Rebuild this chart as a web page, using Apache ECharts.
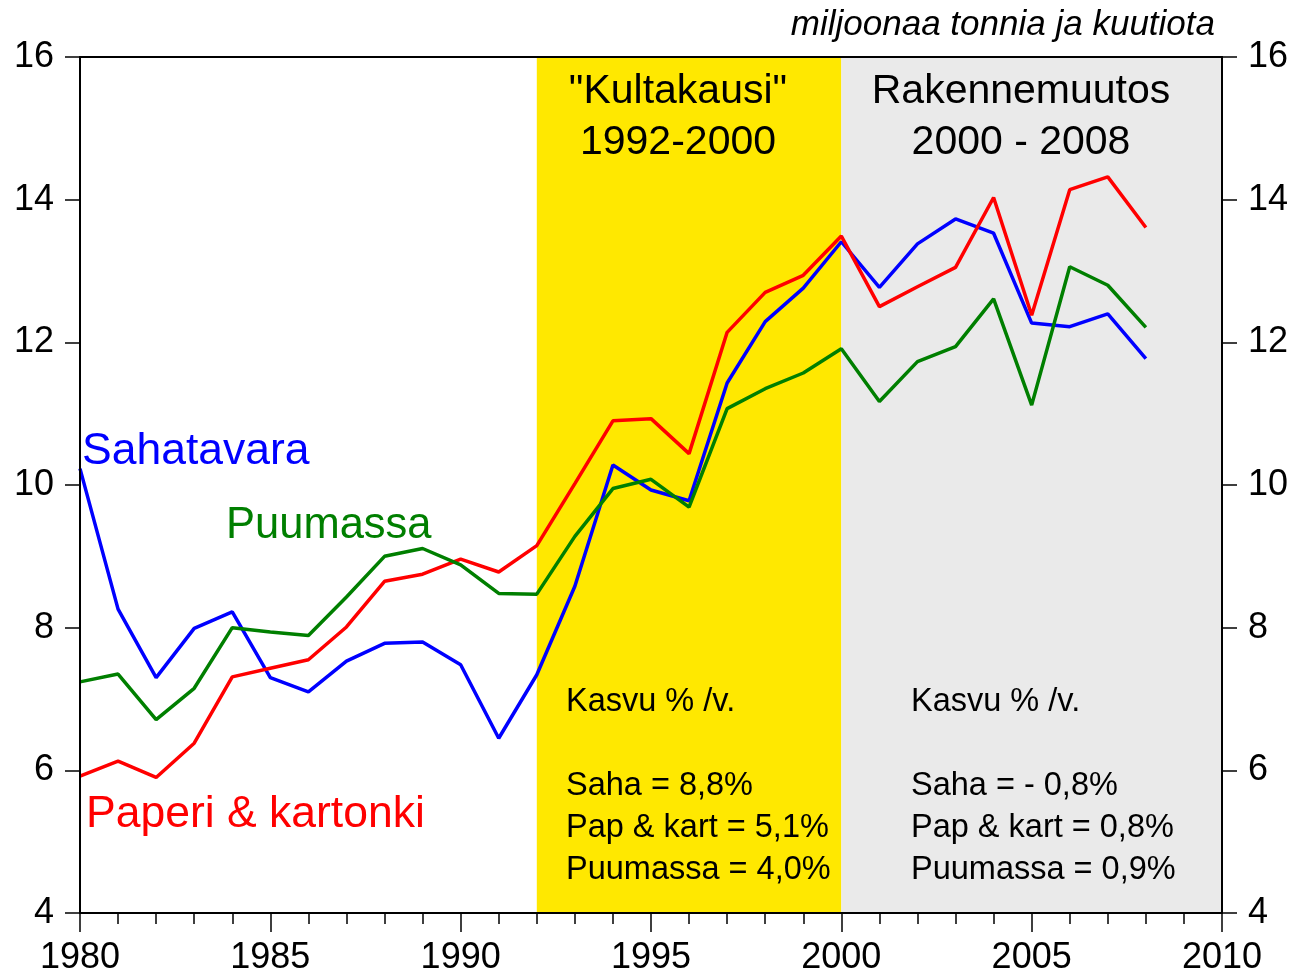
<!DOCTYPE html>
<html>
<head>
<meta charset="utf-8">
<script src="https://cdn.jsdelivr.net/npm/echarts@6/dist/echarts.min.js"></script>
<style>html,body{margin:0;padding:0;background:#fff;}#c{width:1299px;height:975px;}</style>
</head>
<body>
<div id="c"></div>
<script>
const years = [1980,1981,1982,1983,1984,1985,1986,1987,1988,1989,1990,1991,1992,1993,1994,1995,1996,1997,1998,1999,2000,2001,2002,2003,2004,2005,2006,2007,2008];
const sahatavara = [10.23,8.26,7.30,7.99,8.22,7.30,7.10,7.53,7.78,7.80,7.48,6.45,7.34,8.58,10.28,9.93,9.78,11.43,12.29,12.76,13.41,12.77,13.38,13.73,13.53,12.27,12.22,12.40,11.77];
const paperi = [5.92,6.13,5.90,6.38,7.31,7.43,7.55,8.01,8.65,8.75,8.96,8.78,9.15,10.02,10.90,10.93,10.44,12.14,12.70,12.94,13.49,12.50,12.78,13.05,14.03,12.38,14.14,14.32,13.61];
const puumassa = [7.24,7.35,6.71,7.15,8.00,7.94,7.89,8.43,9.00,9.11,8.88,8.48,8.47,9.28,9.95,10.08,9.69,11.07,11.35,11.57,11.91,11.17,11.73,11.94,12.61,11.12,13.06,12.80,12.21];
const periods = [[1992,2000],[2000,2010]];
const periodColors = ['#FFE800','#EAEAEA'];
const unitLabel = 'miljoonaa tonnia ja kuutiota';
const periodTitles = [['"Kultakausi"','1992-2000'],['Rakennemuutos','2000 - 2008']];
const growthTexts = [
  ['Kasvu % /v.','','Saha = 8,8%','Pap & kart = 5,1%','Puumassa = 4,0%'],
  ['Kasvu % /v.','','Saha = - 0,8%','Pap & kart = 0,8%','Puumassa = 0,9%']
];
const seriesNames = ['Sahatavara','Paperi & kartonki','Puumassa'];
const seriesColors = ['#0000FF','#FF0000','#007F00'];

const FONT = '"Liberation Sans", Arial, sans-serif';
const chart = echarts.init(document.getElementById('c'), null, {renderer:'canvas'});
const pair = (arr) => years.map((y,i)=>[y,arr[i]]);

const yAxisCommon = {
  type:'value', min:4, max:16, interval:2, z:10,
  axisLine:{show:true, lineStyle:{color:'#000', width:2}},
  axisTick:{show:true, inside:false, length:15, lineStyle:{color:'#000', width:1.5}},
  axisLabel:{color:'#000', fontSize:36, fontFamily:FONT, margin:26},
  splitLine:{show:false}
};

const textEl = (x, y, text, opts) => Object.assign({
  type:'text', x:x, y:y, z:100,
  style: Object.assign({text:text, fontFamily:FONT, fill:'#000', verticalAlign:'middle'}, opts.style||{})
}, opts.el||{});

const graphics = [];
graphics.push({type:'text', right:84, y:25, z:100, style:{text:unitLabel, fontFamily:FONT, fontSize:35, fontStyle:'italic', fill:'#000', verticalAlign:'middle', align:'right'}});
const titleCenters = [678, 1021];
periodTitles.forEach((lines, k) => {
  lines.forEach((t, j) => graphics.push(textEl(titleCenters[k], 92 + j*51, t, {style:{fontSize:41, align:'center'}})));
});
const growthX = [566, 911];
const growthY = [702, 744, 786, 828, 870];
growthTexts.forEach((lines, k) => {
  lines.forEach((t, j) => { if (t) graphics.push(textEl(growthX[k], growthY[j], t, {style:{fontSize:32.5, align:'left'}})); });
});
const labelPos = [[82,452],[86,815],[226,526]];
const labelSizes = [44.5, 44.5, 43.5];
seriesNames.forEach((n, i) => graphics.push(textEl(labelPos[i][0], labelPos[i][1], n, {style:{fontSize:labelSizes[i], fill:seriesColors[i], align:'left'}})));

const dataSeries = [sahatavara, paperi, puumassa].map((arr, i) => ({
  type:'line', name:seriesNames[i], data:pair(arr), z:5,
  symbol:'none', lineStyle:{color:seriesColors[i], width:3.5}, itemStyle:{color:seriesColors[i]}, animation:false
}));

const option = {
  backgroundColor:'#fff',
  animation:false,
  grid:{left:80, right:77, top:57, bottom:62, show:false, containLabel:false, outerBoundsMode:'none'},
  xAxis:[{
    type:'value', min:1980, max:2010, interval:5, z:10,
    axisLine:{show:true, onZero:false, lineStyle:{color:'#000', width:2}},
    axisTick:{show:true, inside:false, length:19, lineStyle:{color:'#000', width:1.5}},
    minorTick:{show:true, splitNumber:5, length:11, lineStyle:{color:'#000', width:1.5}},
    axisLabel:{color:'#000', fontSize:36, fontFamily:FONT, margin:27, formatter:(v)=>String(v)},
    splitLine:{show:false}
  },{
    type:'value', min:1980, max:2010, position:'top', z:10,
    axisLine:{show:true, onZero:false, lineStyle:{color:'#000', width:2}},
    axisTick:{show:false}, axisLabel:{show:false}, splitLine:{show:false}
  }],
  yAxis:[
    Object.assign({}, yAxisCommon, {position:'left'}),
    Object.assign({}, yAxisCommon, {position:'right'})
  ],
  series:[{
    type:'line', data:[], z:1, silent:true,
    markArea:{silent:true, data: periods.map((p, k) => [
      {xAxis:p[0], itemStyle:{color:periodColors[k], opacity:1}},
      {xAxis:p[1]}
    ])}
  }].concat(dataSeries),
  graphic: graphics
};
chart.setOption(option);
</script>
</body>
</html>
